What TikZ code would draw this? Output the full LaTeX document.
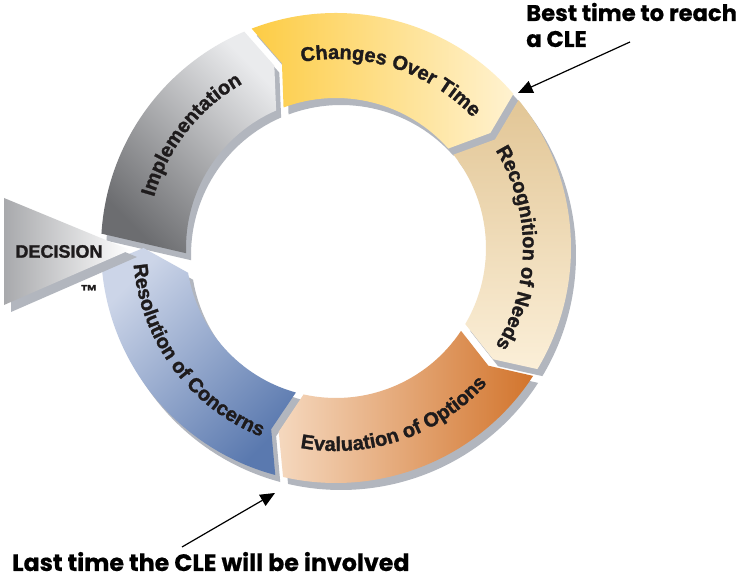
\documentclass[tikz,border=0pt]{standalone}
\usepackage{fontspec}
\newfontfamily\ringbold{Liberation Sans Bold}[FakeBold=1.4]
\newfontfamily\calloutfont{Poppins}[BoldFeatures={FakeBold=0.6}]
\usetikzlibrary{arrows.meta,decorations.text}

\definecolor{ImplDark}{RGB}{108,109,112}
\definecolor{ImplLight}{RGB}{234,235,237}
\definecolor{ChangeGold}{RGB}{253,204,68}
\definecolor{ChangePale}{RGB}{255,242,208}
\definecolor{RecogTan}{RGB}{226,198,150}
\definecolor{RecogCream}{RGB}{251,239,216}
\definecolor{EvalPeach}{RGB}{245,216,190}
\definecolor{EvalOrange}{RGB}{210,116,44}
\definecolor{ResPale}{RGB}{204,213,232}
\definecolor{ResBlue}{RGB}{90,121,175}
\definecolor{DecisionGray}{RGB}{168,169,172}
\definecolor{ShadowGray}{RGB}{178,182,190}
\definecolor{LabelInk}{RGB}{30,27,28}

% ring sizes, in px
\newcommand{\ringout}{235}
\newcommand{\ringin}{150}
\newcommand{\ringmid}{192.5}
\newcommand{\tipang}{4.5}
\newcommand{\gapout}{0.98}
\newcommand{\gapmid}{1.19}
\newcommand{\gapin}{1.53}
\newcommand{\labelfont}{\ringbold\fontsize{15}{18}\selectfont}

\begin{document}
\begin{tikzpicture}[x=0.75pt,y=0.75pt, every node/.style={inner sep=0pt},
  ringseg/.style 2 args={insert path={
    (#1-\gapout:\ringout) arc[start angle=#1-\gapout, end angle=#2+\gapout, radius=\ringout]
    -- (#2-\tipang+\gapmid:\ringmid) -- (#2+\gapin:\ringin)
    arc[start angle=#2+\gapin, end angle=#1-\gapin, radius=\ringin]
    -- (#1-\tipang-\gapmid:\ringmid) -- cycle}},
  implseg/.style={insert path={
    (176.5:\ringout) arc[start angle=176.5, end angle=112+\gapout, radius=\ringout]
    -- (112-\tipang+\gapmid:\ringmid) -- (112+\gapin:\ringin)
    arc[start angle=112+\gapin, end angle=182, radius=\ringin] -- cycle}},
  resseg/.style={insert path={
    (-104-\gapout:\ringout) arc[start angle=-104-\gapout, end angle=-175.8, radius=\ringout]
    -- (-180:\ringmid) -- (-170.5:\ringin)
    arc[start angle=-170.5, end angle=-104-\gapin, radius=\ringin]
    -- (-104-\tipang-\gapmid:\ringmid) -- cycle}},
  seglabel/.style={decorate, decoration={text along path, text align=center,
    text color=LabelInk, text={|\labelfont|#1}}},
  callout/.style={-{Triangle[length=11pt,width=9.5pt]}, line width=0.9pt},
  calloutfont/.style={font=\calloutfont\bfseries\fontsize{#1}{19.5}\selectfont}]

  \useasboundingbox (0,0) rectangle (744,577);
  \fill[white] (0,0) rectangle (744,577);

  \begin{scope}[shift={(336,329)}]
    % drop shadows first
    \begin{scope}[shift={(5,-7)}]
      \fill[ShadowGray, implseg];
      \fill[ShadowGray, ringseg={112}{40}];
      \fill[ShadowGray, ringseg={40}{-32}];
      \fill[ShadowGray, ringseg={-32}{-104}];
      \fill[ShadowGray, resseg];
    \end{scope}

    % the five stages
    \shade[top color=ImplLight, bottom color=ImplDark, shading angle=-45, implseg];
    \shade[left color=ChangeGold, right color=ChangePale, ringseg={112}{40}];
    \shade[top color=RecogTan, bottom color=RecogCream, ringseg={40}{-32}];
    \shade[left color=EvalPeach, right color=EvalOrange, ringseg={-32}{-104}];
    \shade[top color=ResPale, bottom color=ResBlue, shading angle=45, resseg];

    % stage names, set along the ring
    \labelfont
    \path[seglabel={Implementation}] (182:189) arc[start angle=182, end angle=102, radius=189];
    \path[seglabel={Changes Over Time}] (112:189) arc[start angle=112, end angle=32, radius=189];
    \path[seglabel={Recognition of Needs}] (40:187) arc[start angle=40, end angle=-40, radius=187];
    \path[seglabel={Evaluation of Options}] (-111:203) arc[start angle=-111, end angle=-31, radius=203];
    \path[seglabel={Resolution of Concerns}] (-183.5:203) arc[start angle=-183.5, end angle=-103.5, radius=203];
  \end{scope}

  % decision wedge
  \fill[ShadowGray] (11,372) -- (137,320) -- (11,265) -- cycle;
  \shade[left color=DecisionGray, right color=white] (4,379) -- (130,327) -- (4,272) -- cycle;
  \node[font=\ringbold\fontsize{13.5}{15}\selectfont, LabelInk] (decision) at (59,325.5) {DECISION};
  \node[font=\ringbold\fontsize{13}{15}\selectfont, LabelInk] (tm) at (89,286) {™};

  % callouts
  \node[calloutfont=17, anchor=base west, align=left] (best) at (526,530) {Best time to reach\\a CLE};
  \node[calloutfont=17.8, anchor=base west] (last) at (12,6) {Last time the CLE will be involved};
  \coordinate (bestFrom) at (630,535);
  \coordinate (bestTip) at (518,484);
  \coordinate (lastFrom) at (182,30);
  \coordinate (lastTip) at (275,84);
  \draw[callout] (bestFrom) -- (bestTip);
  \draw[callout] (lastFrom) -- (lastTip);
\end{tikzpicture}
\end{document}
